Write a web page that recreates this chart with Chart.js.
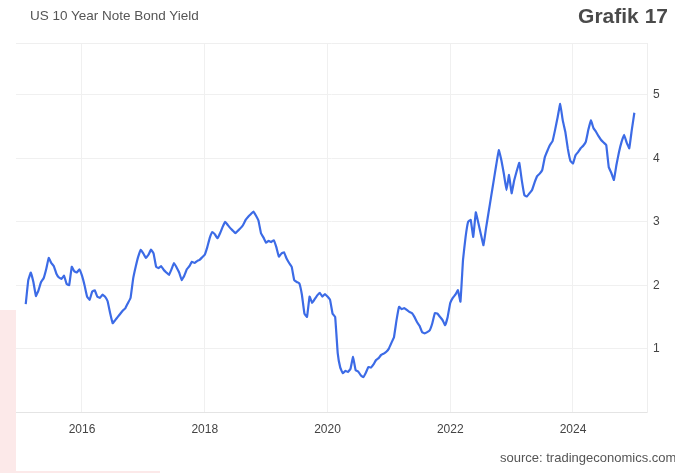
<!DOCTYPE html>
<html>
<head>
<meta charset="utf-8">
<script src="https://cdn.jsdelivr.net/npm/chart.js@4/dist/chart.umd.min.js"></script>
<style>
  html, body { margin: 0; padding: 0; background: #ffffff; }
  #wrap { position: relative; width: 675px; height: 473px; overflow: hidden; background: #ffffff; }
  #pink { position: absolute; left: 0; top: 310px; width: 160px; height: 163px; background: #fce9e9; }
  #card { position: absolute; left: 16px; top: 0; width: 659px; height: 471px; background: #ffffff; }
  canvas { position: absolute; left: 0; top: 0; }
  .txt { position: absolute; font-family: "Liberation Sans", Arial, sans-serif; white-space: nowrap; }
  #title { left: 30px; top: 8px; font-size: 13.5px; color: #555555; }
  #grafik { right: 7px; top: 4px; font-size: 21px; font-weight: bold; color: #4a4a4a; }
  #source { left: 500px; top: 450px; font-size: 13px; color: #555555; }
</style>
</head>
<body>
<div id="wrap">
  <div id="pink"></div>
  <div id="card"></div>
  <canvas id="c" width="675" height="473"></canvas>
  <div class="txt" id="title">US 10 Year Note Bond Yield</div>
  <div class="txt" id="grafik">Grafik 17</div>
  <div class="txt" id="source">source: tradingeconomics.com</div>
</div>
<script>
// Semi-monthly readings (1st and 16th of each month), percent
const y2015 = [1.70, 2.08, 2.20, 2.05, 1.83, 1.92, 2.05, 2.11, 2.25, 2.43, 2.35, 2.30, 2.18, 2.12, 2.10, 2.15, 2.02, 2.00, 2.29, 2.22, 2.20, 2.25]; // from Feb
const y2016 = [2.15, 2.00, 1.82, 1.77, 1.90, 1.92, 1.82, 1.80, 1.85, 1.82, 1.75, 1.56, 1.40, 1.45, 1.50, 1.55, 1.60, 1.64, 1.72, 1.80, 2.10, 2.29, 2.45, 2.56];
const y2017 = [2.50, 2.43, 2.48, 2.56, 2.50, 2.29, 2.27, 2.30, 2.24, 2.20, 2.16, 2.25, 2.35, 2.28, 2.20, 2.08, 2.15, 2.25, 2.30, 2.37, 2.35, 2.38, 2.40, 2.44];
const y2018 = [2.48, 2.60, 2.75, 2.84, 2.80, 2.74, 2.82, 2.92, 3.00, 2.95, 2.90, 2.86, 2.82, 2.86, 2.90, 2.95, 3.03, 3.08, 3.12, 3.16, 3.10, 3.02, 2.82, 2.75];
const y2019 = [2.67, 2.70, 2.68, 2.71, 2.60, 2.45, 2.50, 2.52, 2.42, 2.35, 2.29, 2.08, 2.05, 2.03, 1.85, 1.55, 1.50, 1.82, 1.72, 1.78, 1.84, 1.88, 1.82, 1.86];
const y2020 = [1.82, 1.77, 1.55, 1.50, 0.93, 0.70, 0.61, 0.65, 0.63, 0.68, 0.87, 0.66, 0.64, 0.58, 0.55, 0.62, 0.71, 0.70, 0.75, 0.82, 0.85, 0.90, 0.92, 0.95];
const y2021 = [1.00, 1.09, 1.18, 1.45, 1.66, 1.62, 1.64, 1.61, 1.58, 1.56, 1.50, 1.42, 1.36, 1.26, 1.24, 1.26, 1.29, 1.40, 1.56, 1.55, 1.50, 1.45, 1.37, 1.50];
const y2022 = [1.72, 1.80, 1.85, 1.92, 1.74, 2.40, 2.76, 3.00, 3.03, 2.76, 3.15, 2.98, 2.80, 2.63, 2.90, 3.15, 3.40, 3.65, 3.90, 4.13, 3.97, 3.75, 3.50, 3.74];
const y2023 = [3.45, 3.65, 3.80, 3.93, 3.65, 3.42, 3.40, 3.45, 3.50, 3.62, 3.72, 3.76, 3.82, 4.02, 4.12, 4.21, 4.27, 4.45, 4.65, 4.86, 4.60, 4.42, 4.15, 3.96];
const y2024 = [3.92, 4.05, 4.10, 4.16, 4.20, 4.26, 4.45, 4.60, 4.48, 4.42, 4.35, 4.29, 4.25, 4.21, 3.86, 3.77, 3.66, 3.90, 4.10, 4.26, 4.37, 4.25, 4.16, 4.45];
const y2025 = [4.72];

// year, first half-month slot (0 = Jan 1st), readings
const yearBlocks = [
  [2015, 2, y2015], [2016, 0, y2016], [2017, 0, y2017], [2018, 0, y2018],
  [2019, 0, y2019], [2020, 0, y2020], [2021, 0, y2021], [2022, 0, y2022],
  [2023, 0, y2023], [2024, 0, y2024], [2025, 0, y2025]
];

const xTickYears = [2016, 2018, 2020, 2022, 2024];
const yTickValues = [1, 2, 3, 4, 5];

const points = [];
yearBlocks.forEach(([yr, start, vals]) => {
  vals.forEach((v, k) => points.push({ x: yr + (start + k) / 24, y: v }));
});

const topLine = {
  id: 'topLine',
  beforeDatasetsDraw(chart) {
    const { ctx, chartArea } = chart;
    ctx.save();
    ctx.strokeStyle = '#efefef';
    ctx.lineWidth = 1;
    ctx.beginPath();
    ctx.moveTo(chartArea.left, chartArea.top + 0.5);
    ctx.lineTo(chartArea.right, chartArea.top + 0.5);
    ctx.stroke();
    ctx.restore();
  }
};

new Chart(document.getElementById('c'), {
  type: 'line',
  data: {
    datasets: [{
      data: points,
      borderColor: '#3c6be6',
      borderWidth: 2.2,
      pointRadius: 0,
      tension: 0.08,
      fill: false
    }]
  },
  options: {
    responsive: false,
    devicePixelRatio: 1,
    animation: false,
    layout: { padding: { left: 16, top: 43, right: 0, bottom: 0 } },
    plugins: { legend: { display: false }, tooltip: { enabled: false } },
    scales: {
      x: {
        type: 'linear',
        min: 2014.925,
        max: 2025.206,
        afterBuildTicks: s => { s.ticks = xTickYears.map(v => ({ value: v })); },
        afterFit: s => { s.height = 61; },
        ticks: {
          padding: 10,
          color: '#444444',
          font: { family: 'Liberation Sans, Arial, sans-serif', size: 12 },
          callback: v => String(v)
        },
        grid: { color: '#f0f0f0', drawTicks: false },
        border: { display: true, color: '#e4e4e4' }
      },
      y: {
        position: 'right',
        min: 0,
        max: 5.82,
        afterBuildTicks: s => { s.ticks = yTickValues.map(v => ({ value: v })); },
        afterFit: s => { s.width = 28; },
        ticks: {
          padding: 6,
          color: '#444444',
          font: { family: 'Liberation Sans, Arial, sans-serif', size: 12 },
          callback: v => String(v)
        },
        grid: { color: '#f0f0f0', drawTicks: false },
        border: { display: true, color: '#eeeeee' }
      }
    }
  },
  plugins: [topLine]
});
</script>
</body>
</html>
